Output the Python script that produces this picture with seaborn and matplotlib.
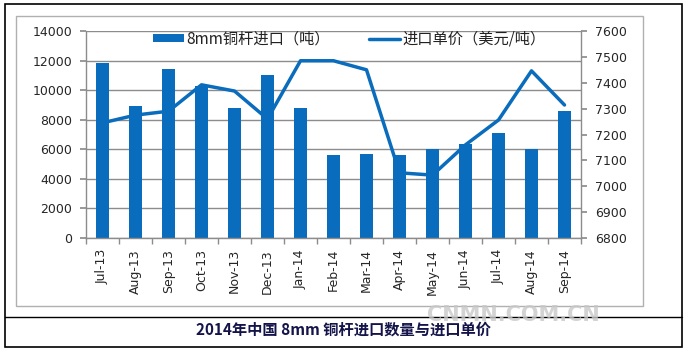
import matplotlib
matplotlib.use("Agg")
import matplotlib.pyplot as plt
import numpy as np
import pandas as pd
import seaborn as sns
from matplotlib.lines import Line2D
from matplotlib.patches import Patch, Rectangle

months = ["Jul-13", "Aug-13", "Sep-13", "Oct-13", "Nov-13", "Dec-13", "Jan-14", "Feb-14",
          "Mar-14", "Apr-14", "May-14", "Jun-14", "Jul-14", "Aug-14", "Sep-14"]
volume = [11850, 8900, 11450, 10250, 8800, 11050, 8800, 5600,
          5700, 5600, 6000, 6350, 7100, 6000, 8600]
price = [7245, 7275, 7290, 7392, 7368, 7260, 7485, 7485,
         7450, 7052, 7043, 7160, 7256, 7446, 7314]
left_ticks = [0, 2000, 4000, 6000, 8000, 10000, 12000, 14000]
right_ticks = [6800, 6900, 7000, 7100, 7200, 7300, 7400, 7500, 7600]

bar_label = "8mm铜杆进口（吨）"
line_label = "进口单价（美元/吨）"
caption = "2014年中国 8mm 铜杆进口数量与进口单价"

BLUE = "#0a6cbc"
GRID = "#8c8c8c"
TICKC = "#262626"

sns.set_theme(style="white")
plt.rcParams["font.family"] = ["DejaVu Sans", "Noto Sans CJK SC"]

df = pd.DataFrame({"month": months, "volume": volume, "price": price})

W, H = 686, 351
fig = plt.figure(figsize=(W / 100, H / 100), dpi=100)

# frames
fig.patches.append(Rectangle((5 / W, 1 - 347 / H), 677 / W, 343 / H, transform=fig.transFigure,
                             fill=False, edgecolor="black", linewidth=1.2))
fig.patches.append(Rectangle((16 / W, 1 - 306 / H), 627 / W, 290 / H, transform=fig.transFigure,
                             fill=False, edgecolor="#b0b0b0", linewidth=1.0))
fig.add_artist(Line2D([5 / W, 682 / W], [1 - 317 / H, 1 - 317 / H], transform=fig.transFigure,
                      color="black", linewidth=1.0))

x0, x1, y0, y1 = 86, 581, 238, 31
ax = fig.add_axes([x0 / W, 1 - y0 / H, (x1 - x0) / W, (y0 - y1) / H])

sns.barplot(data=df, x="month", y="volume", ax=ax, color=BLUE, width=0.4,
            saturation=1, edgecolor="none")
ax.set_ylim(0, 14000)
ax.set_xlim(-0.5, len(months) - 0.5)
ax.set_yticks(left_ticks)
ax.set_yticklabels([str(t) for t in left_ticks], fontsize=9, color=TICKC)
ax.yaxis.grid(True, color=GRID, linewidth=1.0)
ax.set_axisbelow(True)
ax.set_xlabel("")
ax.set_ylabel("")
ax.set_xticks(range(len(months)))
ax.set_xticklabels(months, rotation=90, fontsize=9, color=TICKC)
ax.set_xticks(np.arange(-0.5, len(months)), minor=True)
ax.tick_params(axis="x", which="major", length=0, pad=8)
ax.tick_params(axis="x", which="minor", length=4, color=GRID, direction="out", bottom=True)
ax.tick_params(axis="y", length=4, color=GRID, direction="out", left=True, pad=6)
for side in ["top", "right"]:
    ax.spines[side].set_visible(False)
for side in ["left", "bottom"]:
    ax.spines[side].set_color(GRID)
    ax.spines[side].set_linewidth(1.0)

ax2 = ax.twinx()
sns.pointplot(data=df, x="month", y="price", ax=ax2, color=BLUE, markers="",
              linewidth=2.5, errorbar=None)
ax2.set_ylim(6800, 7600)
ax2.set_xlim(-0.5, len(months) - 0.5)
ax2.set_yticks(right_ticks)
ax2.set_yticklabels([str(t) for t in right_ticks], fontsize=9, color=TICKC)
ax2.set_ylabel("")
ax2.set_xlabel("")
ax2.tick_params(axis="y", length=4, color=GRID, direction="out", right=True, pad=6)
for side in ["top", "left", "bottom"]:
    ax2.spines[side].set_visible(False)
ax2.spines["right"].set_color(GRID)
ax2.spines["right"].set_linewidth(1.0)

handles = [Patch(facecolor=BLUE, edgecolor="none"), Line2D([0], [0], color=BLUE, linewidth=2.5)]
leg = ax2.legend(handles, [bar_label, line_label], ncol=2, frameon=False,
                 loc="upper center", bbox_to_anchor=(0.532, 1.07), columnspacing=2.6,
                 handlelength=2.0, handleheight=0.4, handletextpad=0.15,
                 prop={"family": ["Noto Sans CJK SC", "DejaVu Sans"], "size": 11})
for t in leg.get_texts():
    t.set_color("#222222")

fig.text(343 / W, 1 - 330 / H, caption, ha="center", va="center", fontsize=11,
         fontweight="bold", color="#14144a", family=["Noto Sans CJK SC", "DejaVu Sans"])
fig.text(513 / W, 1 - 315 / H, "CNMN.COM.CN", ha="center", va="center", fontsize=15,
         fontweight="bold", color="#c8c8c8", alpha=0.8)

fig.savefig("out.png", dpi=100)
